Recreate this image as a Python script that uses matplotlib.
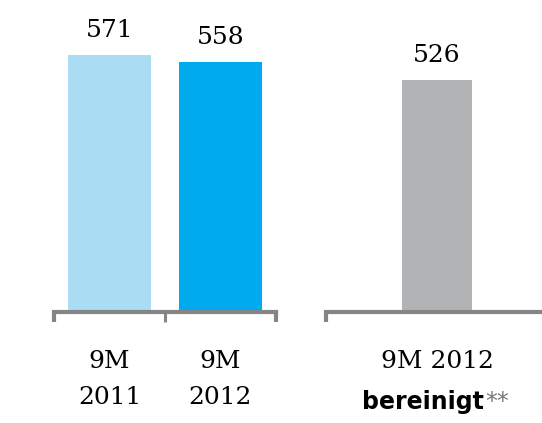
import matplotlib
matplotlib.use("Agg")
import matplotlib.pyplot as plt
import matplotlib.transforms as mtransforms

# values per bar
categories = ["9M\n2011", "9M\n2012", "9M 2012"]
values = [571, 558, 526]
bar_colors = ["#AADDF3", "#00AAEF", "#B2B3B5"]

# layout
positions = [0, 1, 2.95]
widths = [0.75, 0.75, 0.63]
line_color = "#858585"
serif = ["DejaVu Serif"]

fig = plt.figure(figsize=(5.42, 4.23), dpi=100)
ax = fig.add_axes([0, 113 / 423, 1, 310 / 423])

ax.bar(positions, values, width=widths, color=bar_colors, zorder=2)
ax.set_xlim(-109.5 / 111, (542 - 109.5) / 111)
ax.set_ylim(118, 118 + 310 / 0.563)
ax.axis("off")

# value labels above the bars
for x, v in zip(positions, values):
    ax.annotate(str(v), xy=(x, v), xytext=(0, 13), textcoords="offset points",
                ha="center", va="baseline", fontsize=18, family=serif)

# baseline brackets under each group
tr = ax.get_xaxis_transform()
y_line = -2 / 310
y_tick = -12 / 310
ax.plot([-0.5, -0.5, 1.5, 1.5], [y_tick, y_line, y_line, y_tick], transform=tr,
        color=line_color, lw=3, solid_joinstyle="miter", solid_capstyle="butt",
        clip_on=False)
ax.plot([0.5, 0.5], [y_line, y_tick], transform=tr, color=line_color, lw=2.2,
        solid_capstyle="butt", clip_on=False)
ax.plot([1.95, 1.95, 4.0], [y_tick, y_line, y_line], transform=tr,
        color=line_color, lw=3, solid_joinstyle="miter", solid_capstyle="butt",
        clip_on=False)

# category labels
tf = mtransforms.blended_transform_factory(ax.transData, fig.transFigure)
for x, label in zip(positions[:2], categories[:2]):
    first, second = label.split("\n")
    ax.text(x, 1 - 368 / 423, first, transform=tf, ha="center", va="baseline",
            fontsize=18, family=serif)
    ax.text(x, 1 - 404 / 423, second, transform=tf, ha="center", va="baseline",
            fontsize=18, family=serif)
ax.text(positions[2], 1 - 368 / 423, categories[2], transform=tf, ha="center",
        va="baseline", fontsize=18, family=serif)

adj = ax.annotate("bereinigt", xy=(positions[2], 1 - 409 / 423), xycoords=tf,
                  xytext=(-10, 0), textcoords="offset points", ha="center",
                  va="baseline", fontsize=17, fontweight="bold",
                  family=["DejaVu Sans"])
ax.annotate("**", xy=(1, 1), xycoords=adj, xytext=(1, 0),
            textcoords="offset points", ha="left", va="top", fontsize=17,
            color="#7A7A7A", family=["DejaVu Sans"])

fig.savefig("out.png", dpi=100)
